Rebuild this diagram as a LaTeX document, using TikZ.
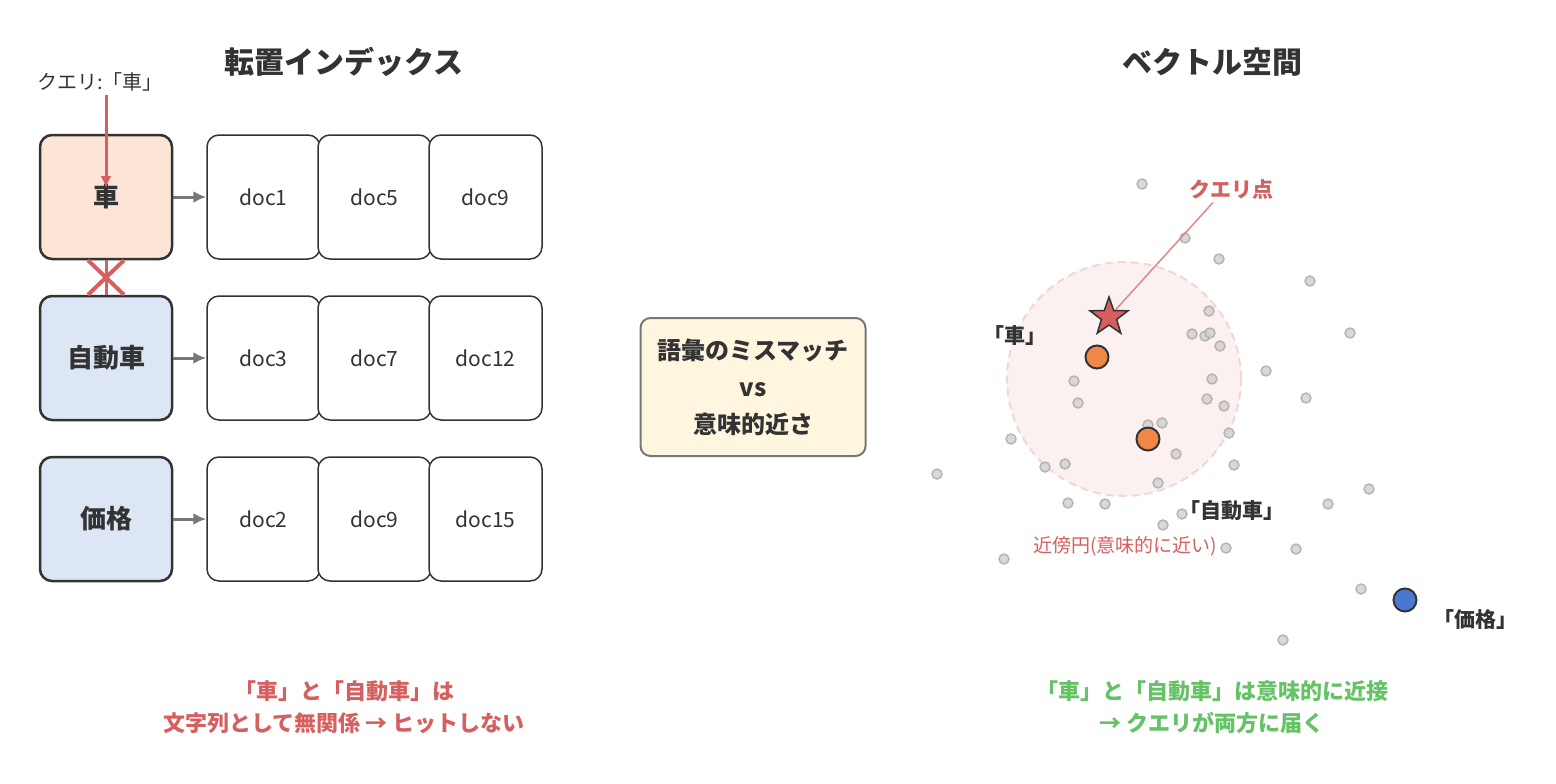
\documentclass[tikz,border=0pt]{standalone}
\usepackage{fontspec}
\setmainfont{Noto Sans CJK JP}
\usetikzlibrary{arrows.meta, positioning, shapes.geometric}

\definecolor{inkdark}{HTML}{333333}
\definecolor{inkred}{HTML}{D65F5F}
\definecolor{inkgreen}{HTML}{66C266}
\definecolor{inkgray}{HTML}{777777}
\definecolor{keypeach}{HTML}{FCE4D6}
\definecolor{keyblue}{HTML}{DCE6F4}
\definecolor{notecream}{HTML}{FFF6E0}
\definecolor{dotfill}{HTML}{D2D2D2}
\definecolor{dotedge}{HTML}{ADADAD}
\definecolor{wordorange}{HTML}{EE8844}
\definecolor{wordblue}{HTML}{4A78D0}
\definecolor{nearfill}{HTML}{FBF1F1}
\definecolor{nearedge}{HTML}{F2D6D6}

\begin{document}
\begin{tikzpicture}[
    x=1pt, y=-1pt,
    node distance=33pt,
    title/.style={font=\fontsize{30}{36}\selectfont\bfseries, text=inkdark},
    keybox/.style={
        rectangle,
        rounded corners=12pt,
        minimum width=132pt,
        minimum height=124pt,
        draw=inkdark,
        line width=2.5pt,
        font=\fontsize{26}{30}\selectfont\bfseries,
        text=inkdark
    },
    dockey/.style={keybox, fill=keyblue},
    docbox/.style={
        rectangle,
        rounded corners=12pt,
        minimum width=113pt,
        minimum height=124pt,
        draw=inkdark,
        fill=white,
        line width=1.5pt,
        font=\fontsize{21}{25}\selectfont,
        text=inkdark
    },
    postarrow/.style={-{Latex[length=13pt, width=12pt]}, inkgray, line width=3pt},
    queryarrow/.style={-{Latex[length=12pt, width=11pt]}, inkred, line width=3pt},
    crossline/.style={inkred, line width=4pt},
    notebox/.style={
        rectangle,
        rounded corners=10pt,
        minimum width=225pt,
        minimum height=138pt,
        align=center,
        fill=notecream,
        draw=inkgray,
        line width=2pt,
        font=\fontsize{24}{37}\selectfont\bfseries,
        text=inkdark
    },
    wordlbl/.style={font=\fontsize{21}{25}\selectfont\bfseries, text=inkdark},
    worddot/.style={circle, minimum size=23pt, inner sep=0pt, draw=inkdark, line width=2pt},
    summary/.style={align=center, font=\fontsize{22}{32}\selectfont\bfseries}
]
\useasboundingbox (0,0) rectangle (1556,784);

% left: inverted index
\node[title] (lefttitle) at (344,62) {転置インデックス};

\node[keybox, fill=keypeach] (kcar) at (106,197) {車};
\node[dockey, below=34.5pt of kcar] (kauto) {自動車};
\node[dockey, below=34.5pt of kauto] (kprice) {価格};

\node[docbox, right=of kcar] (d11) {doc1};
\node[docbox, right=-3.5pt of d11] (d12) {doc5};
\node[docbox, right=-3.5pt of d12] (d13) {doc9};

\node[docbox, right=of kauto] (d21) {doc3};
\node[docbox, right=-3.5pt of d21] (d22) {doc7};
\node[docbox, right=-3.5pt of d22] (d23) {doc12};

\node[docbox, right=of kprice] (d31) {doc2};
\node[docbox, right=-3.5pt of d31] (d32) {doc9};
\node[docbox, right=-3.5pt of d32] (d33) {doc15};

\draw[postarrow] (kcar) -- (d11);
\draw[postarrow] (kauto) -- (d21);
\draw[postarrow] (kprice) -- (d31);

\node[font=\fontsize{20}{24}\selectfont, text=inkdark] (qlabel) at (100,82) {クエリ:「車」};
\draw[queryarrow] (qlabel.south -| kcar) -- ([yshift=9pt]kcar.center);

% no hit between 車 and 自動車
\draw[inkred, line width=3pt] (kcar.south) -- (kauto.north);
\draw[crossline] ([xshift=-18pt]kcar.south) -- ([xshift=18pt]kauto.north);
\draw[crossline] ([xshift=18pt]kcar.south) -- ([xshift=-18pt]kauto.north);

\node[summary, text=inkred] (leftnote) at (344,707) {「車」と「自動車」は\\文字列として無関係 → ヒットしない};

% middle
\node[notebox] (gap) at (753,387) {語彙のミスマッチ\\vs\\意味的近さ};

% right: vector space
\node[title] (righttitle) at (1212,62) {ベクトル空間};

\fill[nearfill] (1124,379) circle (117pt);
\draw[nearedge, line width=2pt, dash pattern=on 8pt off 5pt] (1124,379) circle (117pt);

\foreach \px/\py in {1142/184, 1185/238, 1219/259, 1310/281, 1209/311, 1192/334,
    1205/336, 1210/333, 1220/346, 1266/371, 1074/381, 1212/379, 1078/403,
    1207/399, 1224/406, 1306/398, 1148/425, 1162/423, 1229/433, 1011/439,
    1176/454, 937/474, 1045/467, 1065/464, 1234/465, 1158/483, 1068/503,
    1105/504, 1182/514, 1163/525, 1328/504, 1296/549, 1226/548, 1004/559,
    1350/333, 1369/489, 1361/589, 1283/640}
    \draw[dotedge, fill=dotfill, line width=1.5pt, opacity=0.85] (\px,\py) circle (5pt);

\node[worddot, fill=wordorange] (car) at (1097,357) {};
\node[worddot, fill=wordorange] (auto) at (1148,439) {};
\node[worddot, fill=wordblue] (price) at (1405,600) {};

\node[star, star points=5, star point ratio=2.5, minimum size=40pt, inner sep=0pt,
    fill=inkred, draw=inkdark, line width=1.5pt] (qpt) at (1109,317) {};

\node[font=\fontsize{21}{25}\selectfont\bfseries, text=inkred] (qptlbl) at (1231,189) {クエリ点};
\draw[inkred!75, line width=1.5pt] ([xshift=-18pt]qptlbl.south) -- (qpt);

\node[wordlbl] (carlbl) at (1015,336) {「車」};
\node[wordlbl] (autolbl) at (1232,511) {「自動車」};
\node[wordlbl] (pricelbl) at (1475,620) {「価格」};

\node[font=\fontsize{19}{23}\selectfont, text=inkred] (nearlbl) at (1125,546) {近傍円(意味的に近い)};

\node[summary, text=inkgreen] (rightnote) at (1212,707) {「車」と「自動車」は意味的に近接\\→ クエリが両方に届く};

\end{tikzpicture}
\end{document}
